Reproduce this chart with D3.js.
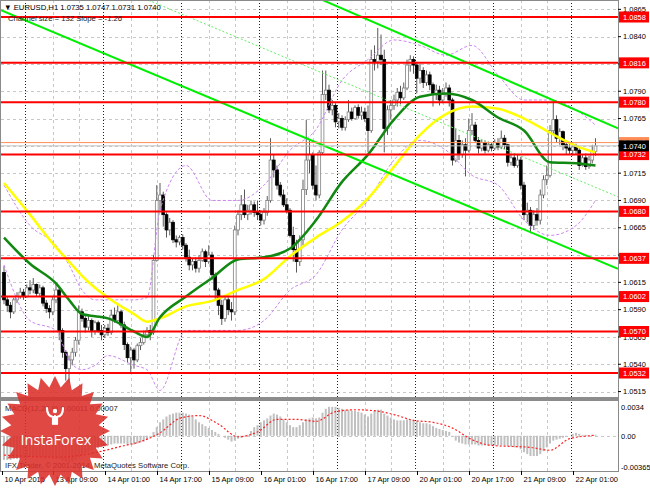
<!DOCTYPE html>
<html>
<head>
<meta charset="utf-8">
<script src="https://cdn.jsdelivr.net/npm/d3@7/dist/d3.min.js"></script>
<style>
  body { margin: 0; background: #fff; }
  svg { display: block; font-family: "Liberation Sans", Arial, sans-serif; }
</style>
</head>
<body>
<svg id="chart"></svg>
<script>
// EURUSD H1, 183 bars (open of each bar = previous close)
const firstOpen = 1.0624;
const closes = [
  1.0599,1.0594,1.0588,1.0599,1.0602,1.0606,1.0602,1.0610,1.0608,1.0613,
  1.0605,1.0610,1.0596,1.0591,1.0588,1.0599,1.0608,1.0571,1.0551,1.0536,
  1.0544,1.0551,1.0562,1.0588,1.0582,1.0574,1.0580,1.0571,1.0578,1.0571,
  1.0567,1.0573,1.0569,1.0585,1.0580,1.0588,1.0576,1.0558,1.0546,1.0553,
  1.0544,1.0557,1.0560,1.0567,1.0571,1.0569,1.0635,1.0690,1.0695,1.0677,
  1.0663,1.0670,1.0654,1.0652,1.0656,1.0649,1.0638,1.0631,1.0634,1.0628,
  1.0635,1.0643,1.0634,1.0640,1.0622,1.0608,1.0594,1.0582,1.0599,1.0590,
  1.0588,1.0663,1.0677,1.0686,1.0677,1.0681,1.0686,1.0679,1.0677,1.0672,
  1.0679,1.0690,1.0727,1.0718,1.0704,1.0695,1.0686,1.0681,1.0658,1.0645,
  1.0634,1.0654,1.0700,1.0727,1.0732,1.0704,1.0695,1.0734,1.0787,1.0791,
  1.0773,1.0777,1.0762,1.0765,1.0757,1.0764,1.0771,1.0765,1.0775,1.0768,
  1.0771,1.0765,1.0754,1.0819,1.0817,1.0823,1.0819,1.0756,1.0773,1.0777,
  1.0782,1.0789,1.0784,1.0793,1.0814,1.0819,1.0814,1.0802,1.0809,1.0798,
  1.0805,1.0796,1.0787,1.0791,1.0782,1.0788,1.0793,1.0782,1.0727,1.0745,
  1.0732,1.0741,1.0736,1.0754,1.0759,1.0745,1.0738,1.0743,1.0736,1.0741,
  1.0738,1.0743,1.0739,1.0747,1.0741,1.0725,1.0729,1.0722,1.0727,1.0704,
  1.0677,1.0681,1.0667,1.0677,1.0672,1.0695,1.0709,1.0713,1.0754,1.0764,
  1.0747,1.0753,1.0741,1.0738,1.0736,1.0739,1.0736,1.0722,1.0729,1.0721,
  1.0727,1.0735,1.0740
];
const highs = [
  1.0630,1.0602,1.0597,1.0601,1.0606,1.0610,1.0609,1.0613,1.0617,1.0619,
  1.0614,1.0613,1.0612,1.0599,1.0594,1.0602,1.0614,1.0610,1.0573,1.0553,
  1.0548,1.0555,1.0565,1.0594,1.0591,1.0585,1.0584,1.0582,1.0580,1.0580,
  1.0576,1.0576,1.0577,1.0590,1.0592,1.0594,1.0590,1.0579,1.0560,1.0556,
  1.0555,1.0559,1.0564,1.0571,1.0574,1.0576,1.0640,1.0704,1.0706,1.0698,
  1.0679,1.0674,1.0672,1.0658,1.0658,1.0659,1.0651,1.0645,1.0637,1.0638,
  1.0640,1.0646,1.0645,1.0649,1.0643,1.0624,1.0610,1.0599,1.0602,1.0603,
  1.0597,1.0667,1.0681,1.0695,1.0700,1.0686,1.0690,1.0689,1.0690,1.0681,
  1.0683,1.0694,1.0747,1.0732,1.0722,1.0707,1.0700,1.0692,1.0683,1.0666,
  1.0654,1.0658,1.0709,1.0764,1.0745,1.0734,1.0722,1.0736,1.0809,1.0809,
  1.0796,1.0782,1.0779,1.0770,1.0768,1.0767,1.0782,1.0775,1.0777,1.0778,
  1.0776,1.0775,1.0777,1.0828,1.0832,1.0848,1.0842,1.0828,1.0777,1.0782,
  1.0787,1.0793,1.0795,1.0798,1.0819,1.0823,1.0822,1.0817,1.0815,1.0812,
  1.0809,1.0808,1.0798,1.0796,1.0795,1.0793,1.0798,1.0796,1.0784,1.0756,
  1.0750,1.0745,1.0747,1.0765,1.0770,1.0762,1.0748,1.0746,1.0745,1.0744,
  1.0743,1.0746,1.0747,1.0754,1.0750,1.0742,1.0733,1.0733,1.0732,1.0730,
  1.0707,1.0688,1.0684,1.0681,1.0683,1.0700,1.0713,1.0722,1.0759,1.0782,
  1.0768,1.0756,1.0754,1.0743,1.0742,1.0743,1.0742,1.0738,1.0732,1.0733,
  1.0731,1.0741,1.0747
];
const lows = [
  1.0595,1.0588,1.0582,1.0586,1.0596,1.0600,1.0599,1.0601,1.0604,1.0605,
  1.0602,1.0602,1.0593,1.0587,1.0582,1.0585,1.0596,1.0562,1.0546,1.0525,
  1.0523,1.0539,1.0547,1.0558,1.0579,1.0569,1.0571,1.0565,1.0567,1.0569,
  1.0562,1.0564,1.0566,1.0567,1.0578,1.0579,1.0573,1.0553,1.0541,1.0533,
  1.0536,1.0542,1.0553,1.0558,1.0564,1.0562,1.0567,1.0634,1.0681,1.0666,
  1.0656,1.0658,1.0651,1.0647,1.0649,1.0645,1.0634,1.0626,1.0626,1.0624,
  1.0624,1.0634,1.0629,1.0632,1.0617,1.0599,1.0585,1.0576,1.0579,1.0585,
  1.0580,1.0585,1.0658,1.0672,1.0674,1.0672,1.0677,1.0675,1.0672,1.0667,
  1.0668,1.0676,1.0688,1.0711,1.0700,1.0693,1.0684,1.0678,1.0656,1.0634,
  1.0624,1.0630,1.0649,1.0695,1.0715,1.0700,1.0690,1.0692,1.0732,1.0782,
  1.0770,1.0768,1.0757,1.0756,1.0754,1.0754,1.0762,1.0763,1.0764,1.0765,
  1.0764,1.0762,1.0734,1.0752,1.0809,1.0811,1.0814,1.0734,1.0750,1.0764,
  1.0773,1.0776,1.0778,1.0782,1.0791,1.0808,1.0806,1.0788,1.0797,1.0793,
  1.0795,1.0791,1.0776,1.0782,1.0777,1.0779,1.0785,1.0776,1.0722,1.0725,
  1.0727,1.0729,1.0712,1.0734,1.0750,1.0743,1.0733,1.0735,1.0733,1.0734,
  1.0735,1.0736,1.0736,1.0737,1.0737,1.0721,1.0722,1.0720,1.0720,1.0700,
  1.0672,1.0670,1.0660,1.0663,1.0667,1.0668,1.0692,1.0704,1.0711,1.0750,
  1.0743,1.0741,1.0736,1.0732,1.0732,1.0731,1.0732,1.0718,1.0721,1.0718,
  1.0719,1.0724,1.0731
];

// moving averages and envelope bands, read at these bars
const lineBars = [0,8,16,20,24,28,32,40,44,48,56,64,72,80,88,96,104,112,120,128,136,144,152,160,168,176,182];
const maSlow = [1.0706,1.0677,1.0647,1.0634,1.0621,1.0610,1.0601,1.0586,1.0579,1.0582,1.0593,1.0598,1.0608,1.0618,1.0639,1.0656,1.0671,1.0692,1.0721,1.0750,1.0769,1.0776,1.0774,1.0765,1.0752,1.0740,1.0734];
const maFast = [1.0656,1.0632,1.0614,1.0599,1.0586,1.0584,1.0582,1.0570,1.0565,1.0583,1.0602,1.0619,1.0636,1.0638,1.0646,1.0672,1.0707,1.0732,1.0764,1.0785,1.0788,1.0782,1.0766,1.0754,1.0725,1.0724,1.0722];
const bandUpper = [1.0704,1.0667,1.0649,1.0631,1.0608,1.0599,1.0599,1.0599,1.0601,1.0681,1.0722,1.0690,1.0690,1.0704,1.0736,1.0755,1.0800,1.0819,1.0837,1.0832,1.0823,1.0832,1.0805,1.0782,1.0782,1.0773,1.0759];
const bandLower = [1.0631,1.0580,1.0571,1.0544,1.0535,1.0539,1.0548,1.0539,1.0535,1.0516,1.0571,1.0571,1.0571,1.0580,1.0608,1.0622,1.0663,1.0690,1.0727,1.0745,1.0736,1.0713,1.0704,1.0672,1.0658,1.0667,1.0690];

// trend channel: [bar, price] anchors
const channelLower = [[0, 1.0863], [182, 1.0636]];
const channelUpper = [[100, 1.0871], [182, 1.0765]];
const channelMid = [[60, 1.0854], [182, 1.0702]];

const levels = [1.0858, 1.0816, 1.0780, 1.0732, 1.0680, 1.0637, 1.0602, 1.0570, 1.0532];
const priceTicks = [1.0865,1.0840,1.0815,1.0790,1.0765,1.0740,1.0715,1.0690,1.0665,1.0640,1.0615,1.0590,1.0565,1.0540,1.0515];
const bidPrice = 1.0740;
const askPrice = 1.0743;

// MACD main (histogram) per bar, in units of 0.0001
const macdMain = [
  -25,-25,-25,-24,-24,-24,-23,-23,-22,-22,-22,-22,-22,-23,-23,-23,-24,-24,-26,-27,
  -28,-27,-25,-22,-20,-18,-16,-15,-14,-13,-12,-11,-10,-9,-8,-8,-8,-8,-9,-9,
  -9,-8,-7,-6,-4,-1,4,9,14,17,20,22,23,24,24,24,23,22,20,17,
  14,12,10,8,6,4,2,0,-2,-4,-6,-5,-3,-2,-1,1,5,9,11,14,
  16,18,21,23,22,20,17,14,11,9,9,11,14,17,18,19,18,19,24,28,
  30,30,30,29,28,27,27,26,26,25,24,22,20,23,26,27,27,23,21,19,
  17,16,16,16,17,17,16,15,14,13,13,12,10,8,7,6,5,4,-1,-5,
  -7,-8,-9,-9,-9,-9,-10,-10,-10,-10,-10,-10,-10,-10,-10,-11,-11,-12,-12,-14,
  -17,-19,-21,-21,-21,-19,-16,-12,-8,-5,-4,-3,-2,-1,0,2,3,2,1,1,
  0,1,1.1
];
const signalBars = [0,6,12,18,24,30,36,42,48,54,60,66,72,78,84,90,96,102,108,114,120,126,132,138,144,150,156,162,168,174,180,182];
const macdSignal = [-20,-21,-22,-22,-20,-16,-11,-6,3,18,21,12,-1,4,17,17,15,25,27,26,22,16,14,8,-4,-10,-11,-12,-15,-3,0,0.7];
const macdTicks = [0.0034, 0, -0.00365];
const macdTickText = ["0.0034", "0.00", "-0.00365"];

const timeLabels = [
  { bar: 0, text: "10 Apr 2015" }, { bar: 15, text: "13 Apr 09:00" },
  { bar: 31, text: "14 Apr 01:00" }, { bar: 47, text: "14 Apr 17:00" },
  { bar: 63, text: "15 Apr 09:00" }, { bar: 79, text: "16 Apr 01:00" },
  { bar: 95, text: "16 Apr 17:00" }, { bar: 111, text: "17 Apr 09:00" },
  { bar: 127, text: "20 Apr 01:00" }, { bar: 143, text: "20 Apr 17:00" },
  { bar: 159, text: "21 Apr 09:00" }, { bar: 175, text: "22 Apr 01:00" }
];

const W = 650, H = 488;
const plotLeft = 1, plotRight = 618;
const mainTop = 1, mainBottom = 397;
const subTop = 401, subBottom = 471;
const FS = 7.5; // small MT4 font

const svg = d3.select("#chart").attr("width", W).attr("height", H);

const x = d3.scaleLinear().domain([0, 182]).range([4, 595.5]);
const y = d3.scaleLinear().domain([1.0532, 1.0858]).range([373, 17]);
const ym = d3.scaleLinear().domain([-0.00365, 0.0034]).range([471, 403]);

const defs = svg.append("defs");
defs.append("clipPath").attr("id", "clipMain").append("rect")
  .attr("x", plotLeft).attr("y", mainTop).attr("width", plotRight - plotLeft).attr("height", mainBottom - mainTop);
defs.append("clipPath").attr("id", "clipSub").append("rect")
  .attr("x", plotLeft).attr("y", subTop).attr("width", plotRight - plotLeft).attr("height", subBottom - subTop);

const main = svg.append("g").attr("clip-path", "url(#clipMain)");
const sub = svg.append("g").attr("clip-path", "url(#clipSub)");

// horizontal grid
main.selectAll(".hgrid").data(priceTicks).enter().append("line")
  .attr("x1", plotLeft).attr("x2", plotRight)
  .attr("y1", d => Math.round(y(d)) + 0.5).attr("y2", d => Math.round(y(d)) + 0.5)
  .attr("stroke", "#c8c8c8").attr("stroke-dasharray", "3,3");
sub.append("line").attr("x1", plotLeft).attr("x2", plotRight)
  .attr("y1", Math.round(ym(0)) + 0.5).attr("y2", Math.round(ym(0)) + 0.5)
  .attr("stroke", "#c8c8c8").attr("stroke-dasharray", "3,3");

// vertical grid every 8 bars, day separators every 24 bars
const gridBars = d3.range(7, 183, 8).filter((d, k) => k % 3 !== 0);
const dayBars = d3.range(6.5, 183, 24);
[main, sub].forEach(g => {
  g.selectAll(".vgrid").data(gridBars).enter().append("line")
    .attr("x1", d => Math.round(x(d)) + 0.5).attr("x2", d => Math.round(x(d)) + 0.5)
    .attr("y1", 0).attr("y2", H)
    .attr("stroke", "#c8c8c8").attr("stroke-dasharray", "3,3");
  g.selectAll(".vday").data(dayBars).enter().append("line")
    .attr("x1", d => Math.round(x(d)) + 0.5).attr("x2", d => Math.round(x(d)) + 0.5)
    .attr("y1", 0).attr("y2", H)
    .attr("stroke", "#222").attr("stroke-dasharray", "1,2");
});

// candles
const candles = closes.map((c, i) => {
  const o = i === 0 ? firstOpen : closes[i - 1];
  return { i, o, c, h: Math.max(highs[i], o, c), l: Math.min(lows[i], o, c) };
});
main.selectAll(".wick").data(candles).enter().append("line")
  .attr("x1", d => x(d.i)).attr("x2", d => x(d.i))
  .attr("y1", d => y(d.h)).attr("y2", d => y(d.l))
  .attr("stroke", "#5a5a5a").attr("stroke-width", 1);
main.selectAll(".body").data(candles).enter().append("rect")
  .attr("x", d => x(d.i) - 1.4).attr("width", 2.8)
  .attr("y", d => y(Math.max(d.o, d.c)))
  .attr("height", d => Math.max(1, Math.abs(y(d.o) - y(d.c))))
  .attr("fill", d => d.c >= d.o ? "#ffffff" : "#000000")
  .attr("stroke", d => d.c >= d.o ? "#808080" : "#000000")
  .attr("stroke-width", 0.8);

// bands and moving averages
const pts = arr => arr.map((v, k) => [lineBars[k], v]);
const curve = d3.line().x(d => x(d[0])).y(d => y(d[1])).curve(d3.curveMonotoneX);
[bandUpper, bandLower].forEach(b => {
  main.append("path").attr("d", curve(pts(b)))
    .attr("fill", "none").attr("stroke", "#cc88ee").attr("stroke-width", 1).attr("stroke-dasharray", "3,2");
});
main.append("path").attr("d", curve(pts(maSlow)))
  .attr("fill", "none").attr("stroke", "#ffff00").attr("stroke-width", 2.5);
main.append("path").attr("d", curve(pts(maFast)))
  .attr("fill", "none").attr("stroke", "#118811").attr("stroke-width", 2.5);

// channel lines, extended across the panel
function extend(p) {
  const [a, b] = p;
  const k = (b[1] - a[1]) / (b[0] - a[0]);
  const b0 = x.invert(plotLeft), b1 = x.invert(plotRight);
  return [[b0, a[1] + k * (b0 - a[0])], [b1, a[1] + k * (b1 - a[0])]];
}
const straight = d3.line().x(d => x(d[0])).y(d => y(d[1]));
main.append("path").attr("d", straight(extend(channelMid)))
  .attr("stroke", "#66ee66").attr("stroke-width", 1).attr("stroke-dasharray", "2,2").attr("fill", "none");
[channelLower, channelUpper].forEach(c => {
  main.append("path").attr("d", straight(extend(c)))
    .attr("stroke", "#00ee00").attr("stroke-width", 2).attr("fill", "none");
});

// support / resistance levels
main.selectAll(".lvl").data(levels).enter().append("line")
  .attr("x1", plotLeft).attr("x2", plotRight)
  .attr("y1", d => y(d)).attr("y2", d => y(d))
  .attr("stroke", "#ff0000").attr("stroke-width", 2);

// bid / ask lines
main.append("line").attr("x1", plotLeft).attr("x2", plotRight)
  .attr("y1", y(askPrice)).attr("y2", y(askPrice)).attr("stroke", "#ff8c55").attr("stroke-width", 1);
main.append("line").attr("x1", plotLeft).attr("x2", plotRight)
  .attr("y1", y(bidPrice)).attr("y2", y(bidPrice)).attr("stroke", "#c0c0c0").attr("stroke-width", 1);

// MACD histogram and signal
sub.selectAll(".hist").data(macdMain).enter().append("rect")
  .attr("x", (d, i) => x(i) - 1)
  .attr("width", 2)
  .attr("y", d => Math.min(ym(d / 10000), ym(0)))
  .attr("height", d => Math.abs(ym(d / 10000) - ym(0)))
  .attr("fill", "#c0c0c0");
sub.append("path")
  .attr("d", d3.line().x((d, k) => x(signalBars[k])).y(d => ym(d / 10000)).curve(d3.curveMonotoneX)(macdSignal))
  .attr("fill", "none").attr("stroke", "#ff2222").attr("stroke-width", 1.2).attr("stroke-dasharray", "2,2");

// frames
const frame = svg.append("g").attr("fill", "none").attr("stroke", "#8a8a8a");
frame.append("rect").attr("x", 0.5).attr("y", 0.5).attr("width", plotRight).attr("height", mainBottom);
frame.append("rect").attr("x", 0.5).attr("y", subTop - 0.5).attr("width", plotRight).attr("height", subBottom - subTop + 1);
svg.append("rect").attr("x", 0).attr("y", mainBottom).attr("width", plotRight + 1).attr("height", 3.5).attr("fill", "#8c8c8c");

// price axis labels
const axisG = svg.append("g").attr("font-size", FS).attr("fill", "#000");
axisG.selectAll(".ptick").data(priceTicks).enter().append("text")
  .attr("x", 623).attr("y", d => y(d) + 2.7).text(d => d3.format(".4f")(d));
axisG.selectAll(".ptickMark").data(priceTicks).enter().append("line")
  .attr("x1", plotRight).attr("x2", plotRight + 3)
  .attr("y1", d => y(d)).attr("y2", d => y(d)).attr("stroke", "#000");

function priceTag(v, bg, fg) {
  const g = svg.append("g");
  g.append("rect").attr("x", 619).attr("y", y(v) - 5.5).attr("width", 30).attr("height", 11).attr("fill", bg);
  g.append("text").attr("x", 623).attr("y", y(v) + 2.8).attr("font-size", FS).attr("fill", fg)
    .text(d3.format(".4f")(v));
}
levels.forEach(v => priceTag(v, "#ff0000", "#ffffff"));
priceTag(askPrice, "#ff8c55", "#ffffff");
priceTag(bidPrice, "#000000", "#ffffff");

// MACD axis labels
svg.selectAll(".mtick").data(macdTicks).enter().append("text")
  .attr("x", 621).attr("font-size", FS)
  .attr("y", (d, k) => [410, 439, 470][k])
  .text((d, k) => macdTickText[k]);

// time axis
const tg = svg.append("g").attr("font-size", FS).attr("fill", "#000");
timeLabels.forEach(t => {
  const px = t.bar === 0 ? 2 : Math.round(x(t.bar));
  tg.append("line").attr("x1", px + 0.5).attr("x2", px + 0.5).attr("y1", subBottom).attr("y2", subBottom + 4).attr("stroke", "#000");
  tg.append("text").attr("x", px + 2.5).attr("y", 481.5).text(t.text);
});

// header texts
svg.append("text").attr("x", 4).attr("y", 10).attr("font-size", 7.7).text("▼ EURUSD,H1  1.0735 1.0747 1.0731 1.0740");
svg.append("text").attr("x", 8).attr("y", 21).attr("font-size", 7.7).attr("fill", "#222").text("Channel size = 132 Slope = -1.26");
svg.append("text").attr("x", 5).attr("y", 411).attr("font-size", 7.7).attr("fill", "#222").text("MACD(12,26,9) 0.00011 0.00007");
svg.append("text").attr("x", 5).attr("y", 468).attr("font-size", 7.7).attr("fill", "#222").text("IFX Trader, © 2001-2014, MetaQuotes Software Corp.");

// InstaForex seal
const cx = 55, cy = 431;
const seal = svg.append("g").attr("opacity", 0.88);
const star = d3.range(48).map(k => {
  const r = k % 2 ? 44 : 55, a = k * Math.PI / 24;
  return [cx + r * Math.sin(a), cy - r * Math.cos(a)];
});
seal.append("path").attr("d", d3.line()(star) + "Z").attr("fill", "#dc2f2a");
const icon = svg.append("g").attr("fill", "none").attr("stroke", "#fff").attr("stroke-width", 2.2).attr("stroke-linecap", "round");
icon.append("circle").attr("cx", cx).attr("cy", 411).attr("r", 2.2).attr("fill", "#fff").attr("stroke", "none");
icon.append("path").attr("d", `M${cx - 8},408 q0,8 6,9 v7 M${cx + 8},408 q0,8 -6,9 v7 M${cx},416 v8`);
svg.append("text").attr("x", cx + 1).attr("y", 445).attr("text-anchor", "middle")
  .attr("font-family", "'Open Sans', sans-serif").attr("font-size", 14.5).attr("fill", "#fff").text("InstaForex");
</script>
</body>
</html>
